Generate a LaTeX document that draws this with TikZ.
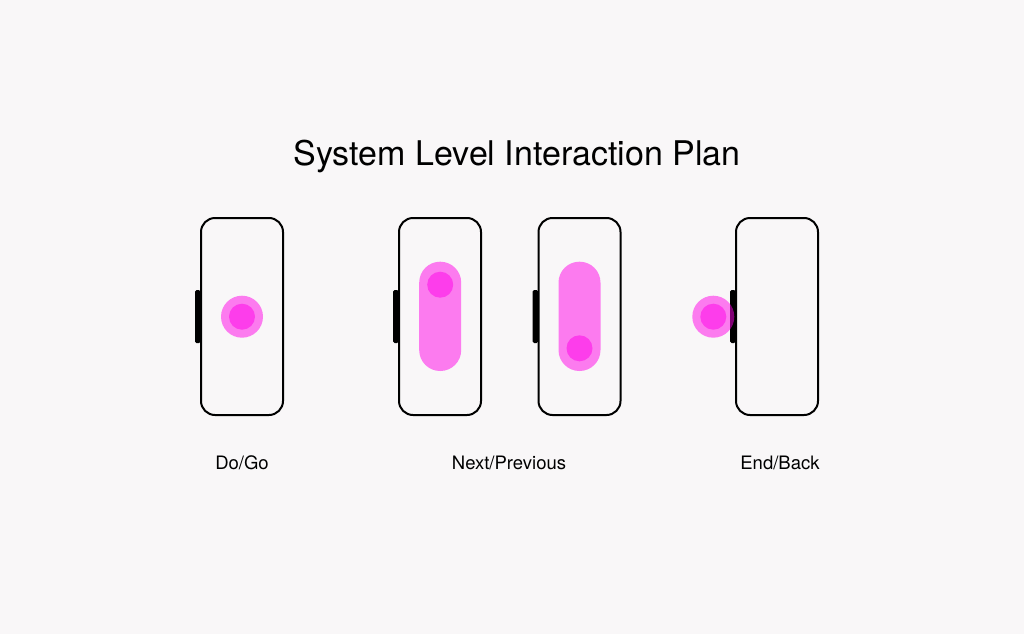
\documentclass[tikz,border=0pt]{standalone}
\usepackage{fontspec}
\setmainfont{TeX Gyre Heros}
\definecolor{bgc}{RGB}{249,247,248}
\definecolor{mag}{RGB}{255,0,232}
\tikzset{
  phone/.style={draw=black, line width=2pt, rounded corners=14pt},
  sidebtn/.style={fill=black, rounded corners=1.5pt},
  touch/.style={fill=mag, fill opacity=0.5},
  title/.style={anchor=base, inner sep=0pt, font=\fontsize{34}{40}\selectfont},
  caption/.style={anchor=base, inner sep=0pt, font=\fontsize{18.5}{22}\selectfont},
}
\begin{document}
\begin{tikzpicture}[x=1pt,y=-1pt]
\fill[bgc] (0,0) rectangle (1024,634);
\useasboundingbox (0,0) rectangle (1024,634);
% title
\node[title] (title) at (517,165.5) {System Level Interaction Plan};
% phones
\foreach \l/\n in {200/p1,398/p2,537.5/p3,735/p4}{
  \draw[phone] (\l+1,218) rectangle (\l+83,415);
  \fill[sidebtn] (\l-5,290) rectangle (\l+0.5,343);
}
% Do/Go
\fill[touch] (242,316.7) circle (21);
\fill[touch] (242,316.7) circle (13);
% Next
\fill[touch, rounded corners=20.9pt] (419.2,261.7) rectangle (461.2,371);
\fill[touch] (440.2,284.7) circle (13);
% Previous
\fill[touch, rounded corners=20.9pt] (558.5,261.7) rectangle (600.5,371);
\fill[touch] (579.5,348.3) circle (13);
% End/Back
\fill[touch] (713.3,316.7) circle (21);
\fill[touch] (713.3,316.7) circle (13);
% captions
\node[caption] (dogo) at (242,469) {Do/Go};
\node[caption] (nextprev) at (509,469) {Next/Previous};
\node[caption] (endback) at (780,469) {End/Back};
\end{tikzpicture}
\end{document}
